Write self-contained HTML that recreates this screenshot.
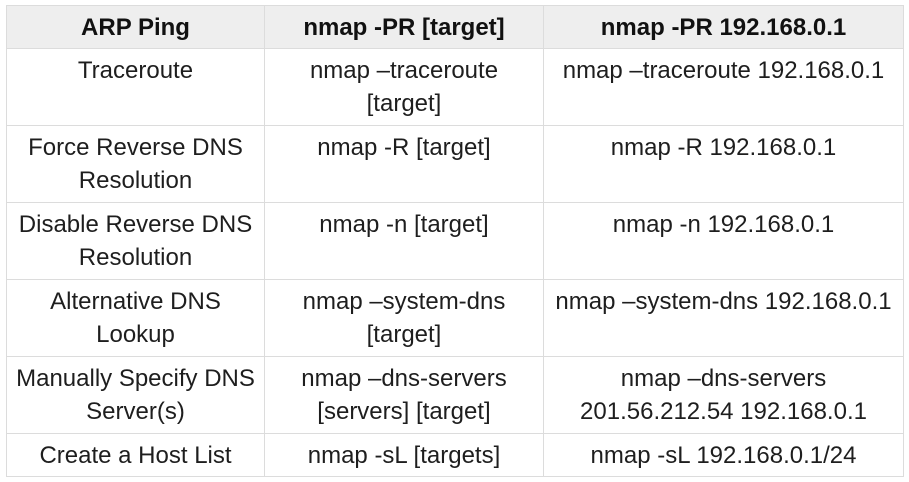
<!DOCTYPE html>
<html><head><meta charset="utf-8"><style>
html,body{margin:0;padding:0;background:#fff;width:909px;height:482px;overflow:hidden}
table{position:absolute;left:6px;top:5px;border-collapse:collapse;table-layout:fixed;font-family:"Liberation Sans",Arial,sans-serif;font-size:24px;color:#1e1e1e;}
td,th{border:1px solid #dcdcdc;text-align:center;vertical-align:top;padding:5px 4px 0 4px;line-height:33px;box-sizing:border-box;white-space:nowrap}
th{background:#eeeeee;font-weight:bold;height:43px;vertical-align:middle;padding:0 4px;color:#111}
td{height:77px}
tr.last td{height:43px}
</style></head><body>
<table>
<colgroup><col style="width:258px"><col style="width:279px"><col style="width:360px"></colgroup>
<tr><th>ARP Ping</th><th>nmap -PR [target]</th><th>nmap -PR 192.168.0.1</th></tr>
<tr><td>Traceroute</td><td>nmap –traceroute<br>[target]</td><td>nmap –traceroute 192.168.0.1</td></tr>
<tr><td>Force Reverse DNS<br>Resolution</td><td>nmap -R [target]</td><td>nmap -R 192.168.0.1</td></tr>
<tr><td>Disable Reverse DNS<br>Resolution</td><td>nmap -n [target]</td><td>nmap -n 192.168.0.1</td></tr>
<tr><td>Alternative DNS<br>Lookup</td><td>nmap –system-dns<br>[target]</td><td>nmap –system-dns 192.168.0.1</td></tr>
<tr><td>Manually Specify DNS<br>Server(s)</td><td>nmap –dns-servers<br>[servers] [target]</td><td>nmap –dns-servers<br>201.56.212.54 192.168.0.1</td></tr>
<tr class="last"><td>Create a Host List</td><td>nmap -sL [targets]</td><td>nmap -sL 192.168.0.1/24</td></tr>
</table>
</body></html>
